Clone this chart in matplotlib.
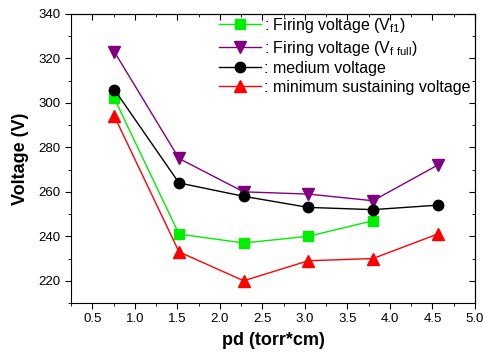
import matplotlib.pyplot as plt
from matplotlib.ticker import MultipleLocator

plt.rcParams['font.family'] = ['Liberation Sans', 'DejaVu Sans']
plt.rcParams['mathtext.fontset'] = 'custom'
plt.rcParams['mathtext.rm'] = 'Liberation Sans'

pd_vals = [0.76, 1.52, 2.28, 3.04, 3.80, 4.56]

firing_f1 = [302, 241, 237, 240, 247]
firing_full = [323, 275, 260, 259, 256, 272]
medium = [306, 264, 258, 253, 252, 254]
min_sustain = [294, 233, 220, 229, 230, 241]

labels = [
    r': Firing voltage (V$_{\mathrm{f1}}$)',
    r': Firing voltage (V$_{\mathrm{f\ full}}$)',
    ': medium voltage',
    ': minimum sustaining voltage',
]

fig = plt.figure(figsize=(4.83, 3.54), dpi=100)
ax = fig.add_axes([71 / 483, 1 - 303 / 354, (475 - 71) / 483, (303 - 14) / 354])

ax.plot(pd_vals[:len(firing_f1)], firing_f1, color='#00ee00', marker='s', ms=7,
        lw=1, label=labels[0])
ax.plot(pd_vals, firing_full, color='#800080', marker='v', ms=8.5, lw=1, label=labels[1])
ax.plot(pd_vals, medium, color='black', marker='o', ms=7.5, lw=1, label=labels[2])
ax.plot(pd_vals, min_sustain, color='#ff0000', marker='^', ms=8.5, lw=1, label=labels[3])

ax.set_xlim(0.25, 5.0)
ax.set_ylim(210, 340)
ax.xaxis.set_major_locator(MultipleLocator(0.5))
ax.xaxis.set_minor_locator(MultipleLocator(0.25))
ax.yaxis.set_major_locator(MultipleLocator(20))
ax.yaxis.set_minor_locator(MultipleLocator(10))
ax.set_yticks(range(220, 341, 20))
ax.tick_params(which='both', direction='out', top=False, right=False, labelsize=9.5)
ax.tick_params(which='major', length=4)
ax.tick_params(which='minor', length=2.5)

# inward ticks on top/right like Origin
sec_x = ax.secondary_xaxis('top')
sec_x.xaxis.set_major_locator(MultipleLocator(0.5))
sec_x.xaxis.set_minor_locator(MultipleLocator(0.25))
sec_x.tick_params(which='both', direction='in', labeltop=False)
sec_x.tick_params(which='major', length=4)
sec_x.tick_params(which='minor', length=2.5)
sec_y = ax.secondary_yaxis('right')
sec_y.yaxis.set_major_locator(MultipleLocator(20))
sec_y.yaxis.set_minor_locator(MultipleLocator(10))
sec_y.tick_params(which='both', direction='in', labelright=False)
sec_y.tick_params(which='major', length=4)
sec_y.tick_params(which='minor', length=2.5)

ax.set_xlabel('pd (torr*cm)', fontsize=13, fontweight='bold', labelpad=5)
ax.set_ylabel('Voltage (V)', fontsize=13, fontweight='bold', labelpad=7)

ax.legend(loc='upper right', bbox_to_anchor=(1.005, 1.015), frameon=False, fontsize=11.5,
          handlelength=2.6, handletextpad=0.2, labelspacing=0.22, borderaxespad=0)

fig.savefig('out.png', dpi=100)
